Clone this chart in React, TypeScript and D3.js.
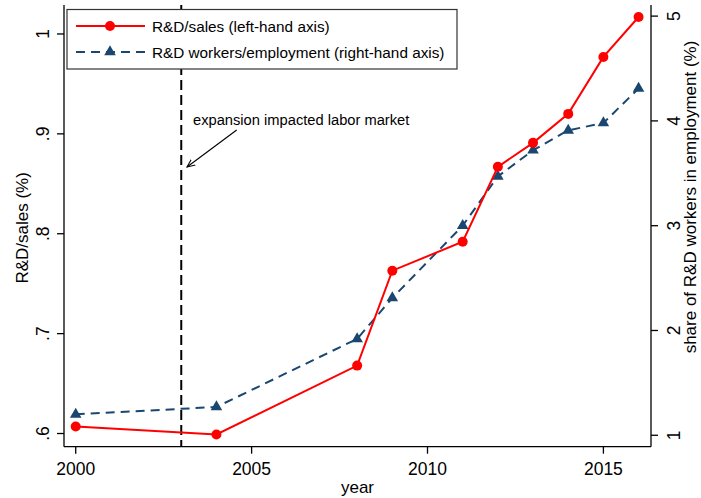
import React from "react";
import * as d3 from "d3";

const years = [2000, 2004, 2008, 2009, 2011, 2012, 2013, 2014, 2015, 2016];
const rdSales = [0.607, 0.599, 0.668, 0.763, 0.792, 0.867, 0.891, 0.92, 0.977, 1.017];
const rdWorkers = [1.2, 1.27, 1.92, 2.31, 3.0, 3.47, 3.72, 3.91, 3.98, 4.31];
const xTicks = [2000, 2005, 2010, 2015];
const leftTicks = [0.6, 0.7, 0.8, 0.9, 1.0];
const leftTickLabels = [".6", ".7", ".8", ".9", "1"];
const rightTicks = [1, 2, 3, 4, 5];
const eventYear = 2003;
const seriesNames = ["R&D/sales (left-hand axis)", "R&D workers/employment (right-hand axis)"];
const annotation = "expansion impacted labor market";

const W = 701;
const H = 498;
const plot = { left: 64, right: 651, top: 5, bottom: 446.7 };
const RED = "#ff0000";
const NAVY = "#1a476f";
const FONT = "'Liberation Sans', Arial, sans-serif";

export default function App() {
  const x = d3.scaleLinear().domain([1999.667, 2016.353]).range([plot.left, plot.right]);
  const yL = d3.scaleLinear().domain([0.5868, 1.029]).range([plot.bottom, plot.top]);
  const yR = d3.scaleLinear().domain([0.891, 5.106]).range([plot.bottom, plot.top]);

  const redLine = d3
    .line<number>()
    .x((_, i) => x(years[i]))
    .y((d) => yL(d))(rdSales) as string;
  const blueLine = d3
    .line<number>()
    .x((_, i) => x(years[i]))
    .y((d) => yR(d))(rdWorkers) as string;
  const tri = d3.symbol().type(d3.symbolTriangle).size(58)() as string;

  const ex = x(eventYear);
  const plotMidY = (plot.top + plot.bottom) / 2;

  return (
    <svg
      width={W}
      height={H}
      style={{ position: "absolute", left: 0, top: 0, background: "#fff" }}
      fontFamily={FONT}
    >
      <rect x={0} y={0} width={W} height={H} fill="#fff" />
      {/* event line */}
      <line
        x1={ex}
        x2={ex}
        y1={plot.top}
        y2={plot.bottom}
        stroke="#000"
        strokeWidth={2}
        strokeDasharray="10,5"
      />
      {/* series */}
      <path d={blueLine} fill="none" stroke={NAVY} strokeWidth={2} strokeDasharray="9,6" />
      {rdWorkers.map((v, i) => (
        <path key={"t" + i} d={tri} transform={`translate(${x(years[i])},${yR(v)})`} fill={NAVY} />
      ))}
      <path d={redLine} fill="none" stroke={RED} strokeWidth={2} />
      {rdSales.map((v, i) => (
        <circle key={"c" + i} cx={x(years[i])} cy={yL(v)} r={5} fill={RED} />
      ))}

      {/* axes */}
      <g stroke="#000" strokeWidth={1.3}>
        <line x1={plot.left} x2={plot.left} y1={plot.top} y2={plot.bottom} />
        <line x1={plot.right} x2={plot.right} y1={plot.top} y2={plot.bottom} />
        <line x1={plot.left} x2={plot.right} y1={plot.bottom} y2={plot.bottom} />
        {leftTicks.map((t) => (
          <line key={"lt" + t} x1={plot.left - 7} x2={plot.left} y1={yL(t)} y2={yL(t)} />
        ))}
        {rightTicks.map((t) => (
          <line key={"rt" + t} x1={plot.right} x2={plot.right + 7} y1={yR(t)} y2={yR(t)} />
        ))}
        {xTicks.map((t) => (
          <line key={"xt" + t} x1={x(t)} x2={x(t)} y1={plot.bottom} y2={plot.bottom + 7} />
        ))}
      </g>
      <g fontSize={17.5} fill="#000" textAnchor="middle">
        {leftTicks.map((t, i) => (
          <text key={"ll" + t} transform={`translate(49,${yL(t)}) rotate(-90)`}>
            {leftTickLabels[i]}
          </text>
        ))}
        {rightTicks.map((t) => (
          <text key={"rl" + t} transform={`translate(680,${yR(t)}) rotate(-90)`}>
            {String(t)}
          </text>
        ))}
        {xTicks.map((t) => (
          <text key={"xl" + t} x={x(t)} y={474.5}>
            {String(t)}
          </text>
        ))}
      </g>
      <g fontSize={17} fill="#000" textAnchor="middle">
        <text x={(plot.left + plot.right) / 2} y={493}>
          year
        </text>
        <text transform={`translate(27.5,${plotMidY + 2}) rotate(-90)`}>R&amp;D/sales (%)</text>
        <text transform={`translate(696,197) rotate(-90)`}>
          share of R&amp;D workers in employment (%)
        </text>
      </g>

      {/* annotation */}
      <text x={193} y={125} fontSize={14.7} fill="#000">
        {annotation}
      </text>
      <defs>
        <marker id="arrow" viewBox="0 0 10 10" refX={9} refY={5} markerWidth={8} markerHeight={8} orient="auto">
          <path d="M0,1 L9,5 L0,9" fill="none" stroke="#000" strokeWidth={1.2} />
        </marker>
      </defs>
      <line x1={236.7} y1={130} x2={187} y2={167} stroke="#000" strokeWidth={1.1} markerEnd="url(#arrow)" />

      {/* legend */}
      <rect x={67} y={9.5} width={390} height={59.5} fill="#fff" stroke="#333" strokeWidth={1.2} />
      <line x1={76} x2={145} y1={26} y2={26} stroke={RED} strokeWidth={2} />
      <circle cx={110} cy={26} r={5} fill={RED} />
      <line x1={76} x2={145} y1={52} y2={52} stroke={NAVY} strokeWidth={2} strokeDasharray="9,6" />
      <path d={tri} transform="translate(110,52)" fill={NAVY} />
      <g fontSize={15.3} fill="#000">
        <text x={152} y={31.5}>{seriesNames[0]}</text>
        <text x={152} y={57.5}>{seriesNames[1]}</text>
      </g>
    </svg>
  );
}
